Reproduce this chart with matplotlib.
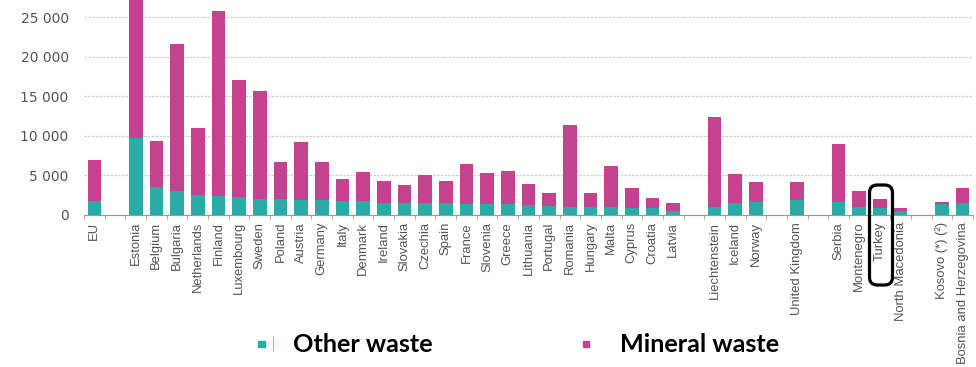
import matplotlib
matplotlib.use("Agg")
import matplotlib.pyplot as plt
from matplotlib.patches import Rectangle, FancyBboxPatch
from matplotlib.lines import Line2D
from matplotlib.ticker import FuncFormatter

# data (kg per capita)
countries = ["EU",
             "Estonia", "Belgium", "Bulgaria", "Netherlands", "Finland", "Luxembourg",
             "Sweden", "Poland", "Austria", "Germany", "Italy", "Denmark", "Ireland",
             "Slovakia", "Czechia", "Spain", "France", "Slovenia", "Greece", "Lithuania",
             "Portugal", "Romania", "Hungary", "Malta", "Cyprus", "Croatia", "Latvia",
             "Liechtenstein", "Iceland", "Norway",
             "United Kingdom",
             "Serbia", "Montenegro", "Turkey", "North Macedonia",
             "Kosovo (*) (²)", "Bosnia and Herzegovina"]
group_sizes = [1, 27, 3, 1, 4, 2]

other_waste = [1770,
               9690, 3500, 3070, 2530, 2400, 2230, 2020, 2020, 1900, 1900, 1810,
               1730, 1520, 1520, 1520, 1520, 1390, 1390, 1390, 1300, 1180, 970,
               970, 970, 850, 850, 540,
               970, 1550, 1640,
               1850,
               1640, 1050, 880, 470,
               1350, 1480]
mineral_waste = [5180,
                 20000, 5890, 18490, 8420, 23370, 14820, 13680, 4630, 7320, 4750, 2780,
                 3660, 2810, 2230, 3530, 2810, 5050, 3910, 4210, 2580, 1560, 10430,
                 1850, 5180, 2560, 1340, 1010,
                 11450, 3590, 2530,
                 2320,
                 7330, 2020, 1140, 380,
                 250, 1970]

teal = "#2aaba7"
pink = "#c5438e"

# x positions: one empty slot between groups
positions = []
pos = 0
for size in group_sizes:
    for k in range(size):
        positions.append(pos)
        pos += 1
    pos += 1
n_slots = pos - 1

fig = plt.figure(figsize=(9.76, 3.67), dpi=100)
ax = fig.add_axes([84 / 976, 152 / 367, (973 - 84) / 976, 215 / 367])

ax.bar(positions, other_waste, width=0.66, color=teal, zorder=3)
ax.bar(positions, mineral_waste, width=0.66, bottom=other_waste, color=pink, zorder=3)

ax.set_xlim(-0.5, n_slots - 0.5)
ax.set_ylim(0, 27150)
ax.set_yticks([0, 5000, 10000, 15000, 20000, 25000])
ax.yaxis.set_major_formatter(FuncFormatter(lambda v, p: f"{int(v):,}".replace(",", " ")))
ax.grid(axis="y", linestyle=(0, (2, 1)), color="#d0d0d0", linewidth=0.9, zorder=0)

ax.set_xticks(positions)
ax.set_xticklabels(countries, rotation=90, fontsize=9.4, color="#555555", va="top",
                   family="Liberation Sans")
ax.set_xticks([i - 0.5 for i in range(n_slots + 1)], minor=True)
ax.tick_params(axis="x", which="major", length=0, pad=5)
ax.tick_params(axis="x", which="minor", length=3, color="#999999")
ax.tick_params(axis="y", length=0, pad=11, labelsize=10, labelcolor="#555555")

for s in ["top", "right", "left"]:
    ax.spines[s].set_visible(False)
ax.spines["bottom"].set_color("#999999")

# highlight box around Turkey
W, H = 976, 367
box = FancyBboxPatch((869.5 / W, 1 - 285 / H), 23 / W, 100 / H,
                     boxstyle="round,pad=0,rounding_size=0.008",
                     mutation_aspect=W / H, transform=fig.transFigure,
                     fill=False, edgecolor="black", linewidth=2.3)
fig.add_artist(box)

# legend
fig.add_artist(Rectangle((258 / W, 1 - 347 / H), 7 / W, 6 / H, color=teal, transform=fig.transFigure))
fig.add_artist(Line2D([273 / W, 273 / W], [1 - 350 / H, 1 - 337 / H], color="#f0a030",
                      linewidth=0.8, transform=fig.transFigure))
fig.text(293 / W, 1 - 352 / H, "Other waste", fontsize=18.2, fontweight="bold",
         family="Lato", color="black", va="baseline")
fig.add_artist(Rectangle((583 / W, 1 - 347 / H), 6 / W, 6 / H, color=pink, transform=fig.transFigure))
fig.text(620 / W, 1 - 352 / H, "Mineral waste", fontsize=18.2, fontweight="bold",
         family="Lato", color="black", va="baseline")

fig.savefig("out.png", dpi=100)
